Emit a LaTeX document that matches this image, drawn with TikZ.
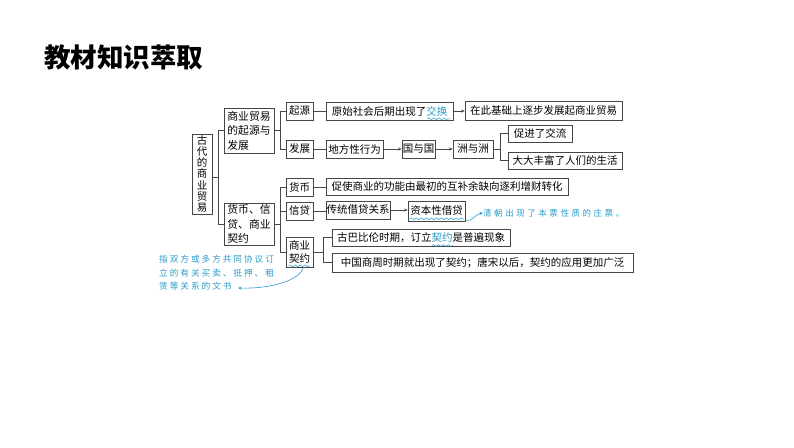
\documentclass[tikz,border=0pt]{standalone}
\usepackage{fontspec}
\setmainfont{Noto Sans CJK SC}
\newfontfamily\cjk{Noto Sans CJK SC}
\newfontfamily\annoA[LetterSpace=30]{Noto Sans CJK SC}
\newfontfamily\annoB[LetterSpace=22]{Noto Sans CJK SC}
\usetikzlibrary{decorations.pathmorphing,arrows.meta,calc}
\definecolor{anno}{RGB}{40,155,200}
\definecolor{lncol}{RGB}{70,70,70}
\begin{document}
\begin{tikzpicture}[x=1pt,y=-1pt,
 bx/.style={draw=lncol,line width=0.6pt,inner sep=0pt,font=\fontsize{10.5}{13}\selectfont,text=black},
 ln/.style={draw=lncol,line width=0.6pt},
 ar/.style={ln,-{Stealth[length=3.5pt,width=3pt]}},
 wave/.style={draw=anno,line width=0.5pt,decorate,decoration={snake,amplitude=0.9pt,segment length=5pt}},
 annoarrow/.style={draw=anno,line width=0.6pt,-{Stealth[length=3.5pt,width=3pt]}}]
\useasboundingbox (0,0) rectangle (794,447);
% title
\node[anchor=west,inner sep=0pt,font=\cjk\bfseries\fontsize{26.5}{26.5}\selectfont] (title) at (44,57) {教材知识萃取};
% root
\node[bx,minimum width=20,minimum height=80,align=center,font=\fontsize{10.5}{11.2}\selectfont] (root) at (202,174) {古\\代\\的\\商\\业\\贸\\易};
% level 2
\node[bx,minimum width=50,minimum height=45,align=left,font=\fontsize{10.8}{14.5}\selectfont] (A) at (249,130.5) {商业贸易\\的起源与\\发展};
\node[bx,minimum width=50,minimum height=42,align=left,font=\fontsize{10.8}{14.5}\selectfont] (B) at (249,224) {货币、信\\贷、商业\\契约};
% level 3
\node[bx,minimum width=27,minimum height=18] (qy) at (299.5,111) {起源};
\node[bx,minimum width=27,minimum height=18] (fz) at (299.5,149) {发展};
\node[bx,minimum width=27,minimum height=18] (hb) at (299.5,187.5) {货币};
\node[bx,minimum width=27,minimum height=18] (qi) at (299.5,211) {信贷};
\node[bx,minimum width=27,minimum height=30,align=center,font=\fontsize{10.5}{13.5}\selectfont] (xd) at (299.5,252) {商业\\契约};
% level 4
\node[bx,minimum width=127,minimum height=18] (r1a) at (389.5,111) {原始社会后期出现了\textcolor{anno}{交换}};
\node[bx,minimum width=157,minimum height=19] (r1b) at (543.5,110.5) {在此基础上逐步发展起商业贸易};
\node[bx,minimum width=57,minimum height=18] (r2a) at (354.5,149) {地方性行为};
\node[bx,minimum width=33,minimum height=18] (r2b) at (418.5,149) {国与国};
\node[bx,minimum width=40,minimum height=18] (r2c) at (473,149) {洲与洲};
\node[bx,minimum width=64,minimum height=17] (r2d) at (540,133.5) {促进了交流};
\node[bx,minimum width=114,minimum height=17] (r2e) at (565,160.5) {大大丰富了人们的生活};
\node[bx,minimum width=242,minimum height=17] (r3) at (447,186.5) {促使商业的功能由最初的互补余缺向逐利增财转化};
\node[bx,minimum width=64,minimum height=18] (r4a) at (358,210) {传统借贷关系};
\node[bx,minimum width=57,minimum height=20] (r4b) at (436.5,211) {资本性借贷};
\node[bx,minimum width=178,minimum height=17] (r5a) at (421,237.5) {古巴比伦时期，订立\textcolor{anno}{契约}是普遍现象};
\node[bx,minimum width=301,minimum height=19] (r5b) at (482.5,262.5) {中国商周时期就出现了契约；唐宋以后，契约的应用更加广泛};
% junctions
\coordinate (j1) at (218,177);
\coordinate (j2) at (280,0);
\coordinate (j3) at (500,0);
\coordinate (j4) at (323,0);
% connectors
\draw[ln] (root.east |- j1) -- (j1);
\draw[ln] (A.west) -- (A.west -| j1) -- (B.west -| j1) -- (B.west);
\draw[ln] (A.east) -- (A.east -| j2);
\draw[ln] (qy.west) -- (qy.west -| j2) -- (fz.west -| j2) -- (fz.west);
\draw[ln] (B.east) -- (B.east -| j2);
\draw[ln] (hb.west) -- (hb.west -| j2) -- (xd.west -| j2) -- (xd.west);
\draw[ln] (qi.west) -- (qi.west -| j2);
\draw[ln] (qy) -- (r1a);
\draw[ar] (r1a.east) -- (r1a.east -| r1b.west);
\draw[ln] (fz) -- (r2a);
\draw[ar] (r2a) -- (r2b);
\draw[ar] (r2b) -- (r2c);
\draw[ln] (r2c.east) -- (r2c.east -| j3);
\draw[ln] (r2d.west) -- (r2d.west -| j3) -- (r2e.west -| j3) -- (r2e.west);
\draw[ln] (hb.east) -- (hb.east -| r3.west);
\draw[ln] (qi.east) -- (qi.east -| r4a.west);
\draw[ar] (r4a.east) -- (r4a.east -| r4b.west);
\draw[ln] (xd.east) -- (xd.east -| j4);
\draw[ln] (r5a.west) -- (r5a.west -| j4) -- (r5b.west -| j4) -- (r5b.west);
% wavy underlines
\draw[wave] ($(r1a.south east)+(-26,-1.5)$) -- ($(r1a.south east)+(-3,-1.5)$);
\draw[wave] ($(r4b.south west)+(2,-2.5)$) -- ($(r4b.south east)+(-2,-2.5)$);
\draw[wave] (432,245.5) -- (453,245.5);
\draw[wave] ($(xd.south west)+(3,-1.5)$) -- ($(xd.south east)+(-3,-1.5)$);
% annotations
\node[anchor=west,inner sep=0pt,text=anno,font=\annoA\fontsize{8.5}{10}\selectfont] (qp) at (483,213) {清朝出现了本票性质的庄票。};
\draw[annoarrow] ($(r4b.south east)+(1,-1)$) .. controls (472,222) and (475,214) .. (qp.west);
\node[anchor=north west,inner sep=0pt,align=left,text=anno,font=\annoB\fontsize{8.7}{13.5}\selectfont] (def) at (159,255) {指双方或多方共同协议订\\立的有关买卖、抵押、租\\赁等关系的文书};
\coordinate (defend) at (238,288);
\draw[annoarrow] ($(xd.south)+(4,0)$) .. controls (300,280) and (272,289) .. (defend);
\end{tikzpicture}
\end{document}
